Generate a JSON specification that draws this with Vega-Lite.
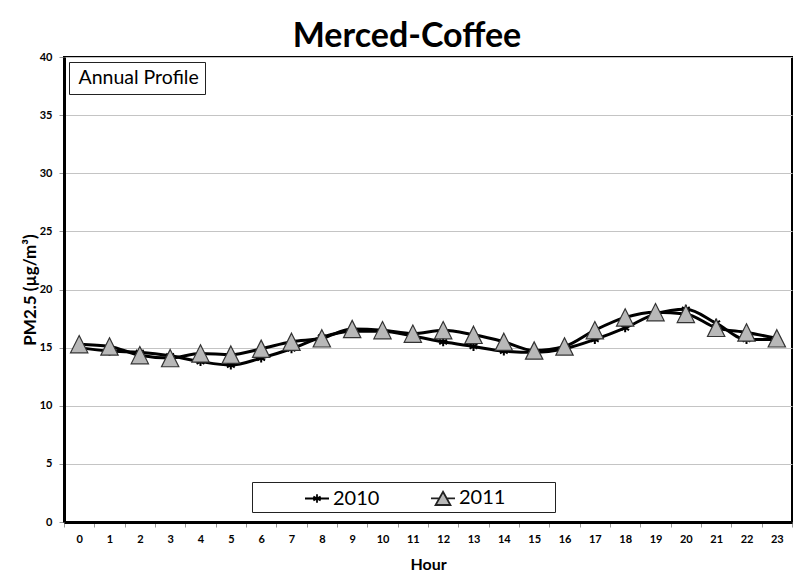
{
  "$schema": "https://vega.github.io/schema/vega-lite/v6.json",
  "width": 728,
  "height": 465,
  "autosize": {"type": "none"},
  "padding": {"left": 64, "top": 57, "right": 3, "bottom": 62},
  "background": "white",
  "title": {"text": "Merced-Coffee", "font": "Lato", "fontSize": 34, "fontWeight": "bold", "color": "black", "anchor": "middle", "frame": "group", "dx": -21, "dy": 42, "offset": 12, "baseline": "alphabetic"},
  "config": {"view": {"stroke": "black", "strokeWidth": 2}},
  "datasets": {
    "pm": [
      {"hour": 0, "year": "2010", "pm": 15.0}, {"hour": 1, "year": "2010", "pm": 14.7}, {"hour": 2, "year": "2010", "pm": 14.6}, {"hour": 3, "year": "2010", "pm": 14.3},
      {"hour": 4, "year": "2010", "pm": 13.8}, {"hour": 5, "year": "2010", "pm": 13.5}, {"hour": 6, "year": "2010", "pm": 14.1}, {"hour": 7, "year": "2010", "pm": 14.9},
      {"hour": 8, "year": "2010", "pm": 15.9}, {"hour": 9, "year": "2010", "pm": 16.4}, {"hour": 10, "year": "2010", "pm": 16.4}, {"hour": 11, "year": "2010", "pm": 16.0},
      {"hour": 12, "year": "2010", "pm": 15.5}, {"hour": 13, "year": "2010", "pm": 15.1}, {"hour": 14, "year": "2010", "pm": 14.7}, {"hour": 15, "year": "2010", "pm": 14.6},
      {"hour": 16, "year": "2010", "pm": 14.9}, {"hour": 17, "year": "2010", "pm": 15.7}, {"hour": 18, "year": "2010", "pm": 16.7}, {"hour": 19, "year": "2010", "pm": 17.9},
      {"hour": 20, "year": "2010", "pm": 18.3}, {"hour": 21, "year": "2010", "pm": 17.1}, {"hour": 22, "year": "2010", "pm": 15.7}, {"hour": 23, "year": "2010", "pm": 15.7},
      {"hour": 0, "year": "2011", "pm": 15.3}, {"hour": 1, "year": "2011", "pm": 15.1}, {"hour": 2, "year": "2011", "pm": 14.35}, {"hour": 3, "year": "2011", "pm": 14.1},
      {"hour": 4, "year": "2011", "pm": 14.5}, {"hour": 5, "year": "2011", "pm": 14.4}, {"hour": 6, "year": "2011", "pm": 14.9}, {"hour": 7, "year": "2011", "pm": 15.5},
      {"hour": 8, "year": "2011", "pm": 15.8}, {"hour": 9, "year": "2011", "pm": 16.6}, {"hour": 10, "year": "2011", "pm": 16.5}, {"hour": 11, "year": "2011", "pm": 16.2},
      {"hour": 12, "year": "2011", "pm": 16.5}, {"hour": 13, "year": "2011", "pm": 16.1}, {"hour": 14, "year": "2011", "pm": 15.5}, {"hour": 15, "year": "2011", "pm": 14.75},
      {"hour": 16, "year": "2011", "pm": 15.1}, {"hour": 17, "year": "2011", "pm": 16.5}, {"hour": 18, "year": "2011", "pm": 17.6}, {"hour": 19, "year": "2011", "pm": 18.05},
      {"hour": 20, "year": "2011", "pm": 17.9}, {"hour": 21, "year": "2011", "pm": 16.7}, {"hour": 22, "year": "2011", "pm": 16.3}, {"hour": 23, "year": "2011", "pm": 15.8}
    ]
  },
  "layer": [
    {
      "data": {"name": "pm"},
      "mark": {"type": "line", "interpolate": "monotone", "color": "black", "strokeWidth": 3},
      "encoding": {
        "x": {"field": "hour", "type": "ordinal", "scale": {"type": "band", "paddingInner": 0, "paddingOuter": 0},
          "axis": {"title": "Hour", "labelAngle": 0, "tickBand": "extent", "grid": false, "domainColor": "black", "domainWidth": 3, "tickColor": "#999999", "tickSize": 5, "labelFont": "Lato", "labelFontSize": 11, "labelFontWeight": "bold", "labelColor": "black", "labelPadding": 6, "titleFont": "Lato", "titleFontSize": 16, "titleFontWeight": "bold", "titleColor": "black", "titlePadding": 12}},
        "y": {"field": "pm", "type": "quantitative", "scale": {"domain": [0, 40], "nice": false, "zero": true},
          "axis": {"title": "PM2.5 (µg/m³)", "values": [0, 5, 10, 15, 20, 25, 30, 35, 40], "grid": true, "gridColor": "#c4c4c4", "gridWidth": 1, "domainColor": "black", "domainWidth": 3, "tickColor": "#999999", "tickSize": 5, "labelFont": "Lato", "labelFontSize": 11, "labelFontWeight": "bold", "labelColor": "black", "labelPadding": 7, "titleFont": "Lato", "titleFontSize": 17, "titleFontWeight": "bold", "titleColor": "black", "titlePadding": 0}},
        "detail": {"field": "year", "type": "nominal"}
      }
    },
    {
      "data": {"name": "pm"},
      "mark": {"type": "point", "filled": true, "opacity": 1},
      "encoding": {
        "x": {"field": "hour", "type": "ordinal"},
        "y": {"field": "pm", "type": "quantitative"},
        "shape": {"condition": {"test": "datum.year === '2010'", "value": "M0,-1L0,1M-0.87,-0.5L0.87,0.5M-0.87,0.5L0.87,-0.5"}, "value": "M0,-1L1,1L-1,1Z"},
        "fill": {"condition": {"test": "datum.year === '2010'", "value": "black"}, "value": "#b8b8b8"},
        "size": {"condition": {"test": "datum.year === '2010'", "value": 81}, "value": 300},
        "stroke": {"condition": {"test": "datum.year === '2010'", "value": "black"}, "value": "#333333"},
        "strokeWidth": {"condition": {"test": "datum.year === '2010'", "value": 2}, "value": 1.2}
      }
    },
    {
      "data": {"values": [{"year": "2010"}, {"year": "2011"}]},
      "mark": {"type": "point", "filled": false, "opacity": 0, "strokeWidth": 1.8},
      "encoding": {
        "shape": {"field": "year", "type": "nominal",
          "scale": {"domain": ["2010", "2011"], "range": ["M-1,0L1,0M0,-0.35L0,0.35M-0.3,-0.17L0.3,0.17M-0.3,0.17L0.3,-0.17", "M-1,0L-0.3,0M0.3,0L1,0M0,-0.55L0.62,0.55L-0.62,0.55ZM8.75,0"]},
          "legend": {"title": null, "orient": "none", "legendX": 188, "legendY": 425, "direction": "horizontal", "strokeColor": "#222222", "fillColor": "white", "padding": 3, "symbolSize": 576, "symbolOffset": 49, "symbolOpacity": 1, "symbolStrokeWidth": 1.8, "labelOffset": 3, "labelFont": "Lato", "labelFontSize": 20, "labelColor": "black", "columnPadding": 1}},
        "fill": {"field": "year", "type": "nominal", "scale": {"domain": ["2010", "2011"], "range": ["transparent", "#b8b8b8"]}},
        "stroke": {"field": "year", "type": "nominal", "scale": {"domain": ["2010", "2011"], "range": ["black", "#222222"]}}
      }
    },
    {
      "data": {"values": [{"note": "Annual Profile"}]},
      "mark": {"type": "point", "opacity": 0},
      "encoding": {
        "color": {"field": "note", "type": "nominal", "scale": {"range": ["white"]},
          "legend": {"title": null, "orient": "none", "legendX": 5, "legendY": 5, "strokeColor": "#222222", "fillColor": "white", "padding": 6, "symbolSize": 1, "symbolStrokeWidth": 0, "symbolOpacity": 0, "labelOffset": -16, "labelFont": "Lato", "labelFontSize": 19.5, "labelColor": "black"}}
      }
    }
  ]
}
